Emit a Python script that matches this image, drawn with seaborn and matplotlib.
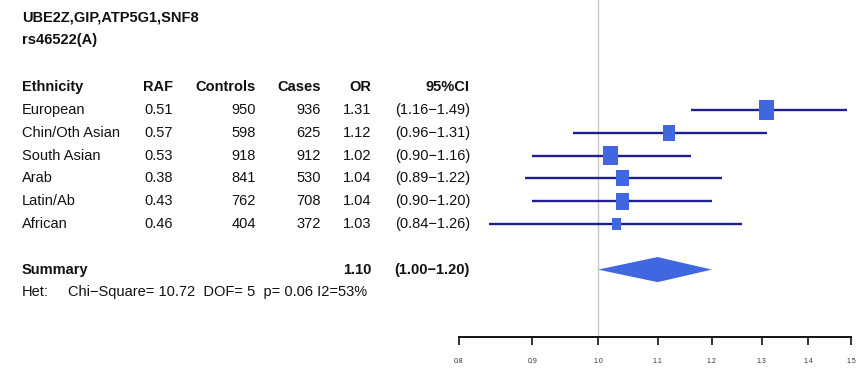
import numpy as np
import pandas as pd
import matplotlib
matplotlib.use("Agg")
import matplotlib.pyplot as plt
import matplotlib.transforms as mtransforms
import seaborn as sns

# ---- study data ----
gene_title = "UBE2Z,GIP,ATP5G1,SNF8"
snp_title = "rs46522(A)"
ethnicity = ["European", "Chin/Oth Asian", "South Asian", "Arab", "Latin/Ab", "African"]
raf = ["0.51", "0.57", "0.53", "0.38", "0.43", "0.46"]
controls = [950, 598, 918, 841, 762, 404]
cases = [936, 625, 912, 530, 708, 372]
odds_ratio = [1.31, 1.12, 1.02, 1.04, 1.04, 1.03]
ci_low = [1.16, 0.96, 0.90, 0.89, 0.90, 0.84]
ci_high = [1.49, 1.31, 1.16, 1.22, 1.20, 1.26]
summary_or = 1.10
summary_low = 1.00
summary_high = 1.20
het_text = "Chi\u2212Square= 10.72  DOF= 5  p= 0.06 I2=53%"
x_ticks = [0.8, 0.9, 1.0, 1.1, 1.2, 1.3, 1.4, 1.5]

df = pd.DataFrame({
    "ethnicity": ethnicity, "raf": raf, "controls": controls, "cases": cases,
    "or": odds_ratio, "lo": ci_low, "hi": ci_high,
})
df["row"] = np.arange(len(df))
# box height proportional to the precision of each estimate (1 / log-CI width)
df["box_px"] = 5.0 / np.log(df["hi"] / df["lo"])
df["area"] = (df["box_px"] * 72 / 100) ** 2

summary_row = len(df) + 1
het_row = summary_row + 1
header_row = -1

sns.set_theme(style="white")
plt.rcParams["font.family"] = ["Liberation Sans Narrow", "Liberation Sans", "DejaVu Sans"]

W, H = 858, 369
fig = plt.figure(figsize=(W / 100, H / 100), dpi=100)

axis_px = 337
ax = fig.add_axes([459 / W, (H - axis_px) / H, (851 - 459) / W, axis_px / H])
ax.set_xscale("log")
ax.set_xlim(0.8, 1.5)
row_px = 22.8
ax.set_ylim((axis_px - 110) / row_px, -110 / row_px)

# reference line at OR = 1
ax.axvline(1.0, color="#c8c8c8", lw=1.0, zorder=0)

# confidence intervals and boxes (boxes are slightly taller than wide)
box = [(-0.39, -0.5), (0.39, -0.5), (0.39, 0.5), (-0.39, 0.5), (-0.39, -0.5)]
ax.hlines(df["row"], df["lo"], df["hi"], color="#1f1f8f", lw=1.7, zorder=2)
sns.scatterplot(data=df, x="or", y="row", marker=box, s=df["area"].values,
                color="#4066e0", linewidth=0, ax=ax, zorder=3, legend=False)

# summary diamond
dh = 0.55
ax.fill([summary_low, summary_or, summary_high, summary_or],
        [summary_row, summary_row - dh, summary_row, summary_row + dh],
        color="#4066e0", lw=0, zorder=3)

# axis styling
for side in ["top", "left", "right"]:
    ax.spines[side].set_visible(False)
ax.spines["bottom"].set_color("#111111")
ax.spines["bottom"].set_linewidth(1.4)
ax.set_yticks([])
ax.set_xticks(x_ticks)
ax.set_xticks([], minor=True)
ax.set_xticklabels([f"{t:.1f}" for t in x_ticks])
ax.tick_params(axis="x", bottom=True, length=6, width=1.2, color="#111111",
               labelsize=5, pad=9, labelcolor="#333333")
ax.set_xlabel("")
ax.set_ylabel("")

# text table placed in figure-x / row-y coordinates
tr = mtransforms.blended_transform_factory(fig.transFigure, ax.transData)
fs = 10.5
tc = "#111111"

def put(xpx, row, s, ha="left", bold=False):
    fig.text(xpx / W, row, s, transform=tr, ha=ha, va="center", fontsize=fs,
             color=tc, fontweight="bold" if bold else "normal")

put(22, (18 - 110) / row_px, gene_title, bold=True)
put(22, (40 - 110) / row_px, snp_title, bold=True)

cols = [(22, "left", "Ethnicity"), (173, "right", "RAF"), (256, "right", "Controls"),
        (321, "right", "Cases"), (371, "right", "OR"), (470, "right", "95%CI")]
for xpx, ha, name in cols:
    put(xpx, header_row, name, ha=ha, bold=True)

for _, r in df.iterrows():
    y = r["row"]
    put(22, y, r["ethnicity"])
    put(173, y, r["raf"], ha="right")
    put(256, y, str(r["controls"]), ha="right")
    put(321, y, str(r["cases"]), ha="right")
    put(371, y, f"{r['or']:.2f}", ha="right")
    put(470, y, f"({r['lo']:.2f}\u2212{r['hi']:.2f})", ha="right")

put(22, summary_row, "Summary", bold=True)
put(371, summary_row, f"{summary_or:.2f}", ha="right", bold=True)
put(470, summary_row, f"({summary_low:.2f}\u2212{summary_high:.2f})", ha="right", bold=True)
put(22, het_row, "Het:")
put(68, het_row, het_text)

fig.savefig("out.png", dpi=100)
